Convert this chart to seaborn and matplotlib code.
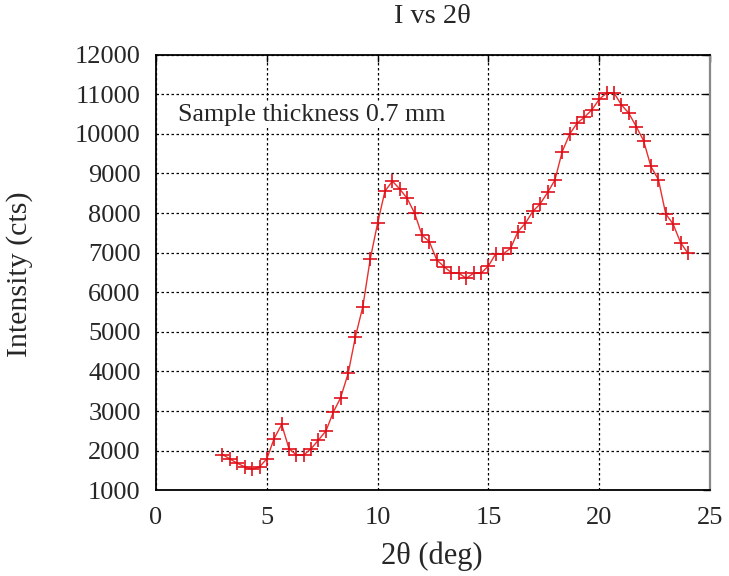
import matplotlib
matplotlib.use("Agg")
import matplotlib.pyplot as plt
import seaborn as sns
import pandas as pd

two_theta = [3.00, 3.33, 3.67, 4.00, 4.33, 4.67, 5.00, 5.33, 5.67, 6.00,
             6.33, 6.67, 7.00, 7.33, 7.67, 8.00, 8.33, 8.67, 9.00, 9.33,
             9.67, 10.00, 10.33, 10.67, 11.00, 11.33, 11.67, 12.00, 12.33, 12.67,
             13.00, 13.33, 13.67, 14.00, 14.33, 14.67, 15.00, 15.33, 15.67, 16.00,
             16.33, 16.67, 17.00, 17.33, 17.67, 18.00, 18.33, 18.67, 19.00, 19.33,
             19.67, 20.00, 20.33, 20.67, 21.00, 21.33, 21.67, 22.00, 22.33, 22.67,
             23.00, 23.33, 23.67, 24.00]
intensity = [1900, 1790, 1680, 1590, 1525, 1590, 1790, 2305, 2660, 2050,
             1890, 1890, 2050, 2265, 2500, 2970, 3335, 3950, 4880, 5630,
             6850, 7745, 8555, 8805, 8605, 8375, 7995, 7445, 7280, 6815,
             6645, 6495, 6480, 6350, 6480, 6480, 6665, 6970, 6970, 7110,
             7530, 7745, 8040, 8230, 8520, 8835, 9555, 10000, 10270, 10420,
             10610, 10875, 11030, 11030, 10735, 10525, 10185, 9830, 9180, 8845,
             7980, 7725, 7255, 6985]

x_ticks = [0, 5, 10, 15, 20, 25]
y_ticks = [1000, 2000, 3000, 4000, 5000, 6000, 7000, 8000, 9000, 10000, 11000, 12000]

title = "I vs 2\u03b8"
x_label = "2\u03b8 (deg)"
y_label = "Intensity (cts)"
note = "Sample thickness 0.7 mm"

sns.set_style("white")
plt.rcParams["font.family"] = ["Liberation Serif", "DejaVu Serif"]

df = pd.DataFrame({"two_theta": two_theta, "intensity": intensity})

fig = plt.figure(figsize=(7.29, 5.76), dpi=100)
ax = fig.add_axes([0.214, 0.149, 0.760, 0.756])

sns.lineplot(data=df, x="two_theta", y="intensity", ax=ax,
             color="#e8302e", linewidth=1.0, marker="+", markersize=10,
             markeredgewidth=1.2, markeredgecolor="#e0101a", sort=False)

ax.set_xlim(0, 25)
ax.set_ylim(1000, 12000)
ax.set_xticks(x_ticks)
ax.set_yticks(y_ticks)
ax.set_xticklabels([str(v) for v in x_ticks], fontsize=19)
ax.set_yticklabels([str(v) for v in y_ticks], fontsize=19)
ax.tick_params(axis="both", direction="in", length=5, width=1, color="black",
               top=True, right=True)
ax.tick_params(axis="x", pad=12)
ax.tick_params(axis="y", pad=11)

ax.grid(True, color="black", linestyle=(0, (2, 2)), linewidth=0.9)

for side in ["left", "bottom", "top"]:
    ax.spines[side].set_color("black")
    ax.spines[side].set_linewidth(1.3)
ax.spines["right"].set_color("#888888")
ax.spines["right"].set_linewidth(1.6)

ax.set_xlabel(x_label, fontsize=22, va="top")
ax.xaxis.set_label_coords(0.498, -0.118)
ax.set_ylabel(y_label, fontsize=21.5)
ax.yaxis.set_label_coords(-0.222, 0.495)
fig.text(0.593, 0.972, title, fontsize=20.5, ha="center", va="center")

ax.text(0.04, 0.862, note, transform=ax.transAxes, fontsize=18.7,
        ha="left", va="center",
        bbox=dict(facecolor="white", edgecolor="none", pad=1))

fig.savefig("out.png", dpi=100)
